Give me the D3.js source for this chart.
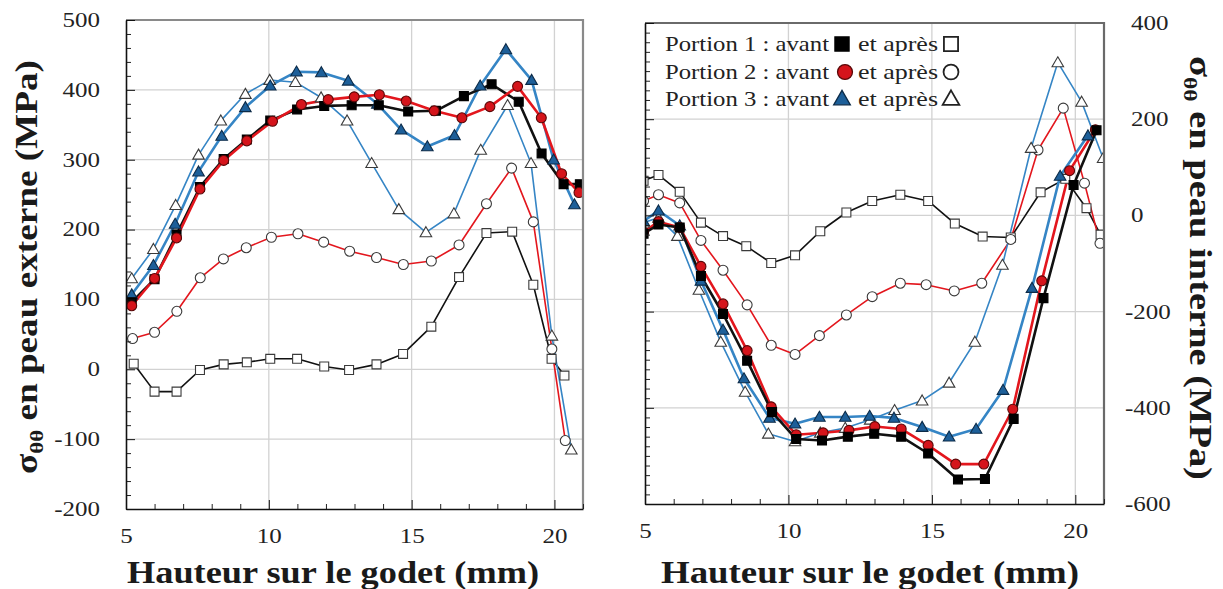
<!DOCTYPE html>
<html><head><meta charset="utf-8">
<script src="https://cdn.jsdelivr.net/npm/d3@7"></script>
<style>
body{margin:0;background:#fff;}
svg{display:block;}
</style></head><body>
<svg id="c" width="1223" height="589"></svg>
<script>
// ---------- tick values ----------
const xTicks = [5, 10, 15, 20];
const xDomain = [5, 21];
const leftYTicks = [-200, -100, 0, 100, 200, 300, 400, 500];
const rightYTicks = [-600, -400, -200, 0, 200, 400];

// ---------- left panel : externe ----------
const L_P1_avant_x = [5.2,6.0,6.77,7.59,8.42,9.23,10.05,10.99,11.94,12.9,13.85,14.88,15.85,16.83,17.8,18.75,19.55,20.32,20.89];
const L_P1_avant_y = [96,129,193,261,301,329,356,372,377,378,378,369,370,391,408,383,309,265,265];
const L_P2_avant_x = [5.2,6.0,6.77,7.59,8.42,9.23,10.13,11.14,12.08,12.99,13.87,14.81,15.79,16.76,17.74,18.71,19.54,20.25,20.86];
const L_P2_avant_y = [91,130,188,258,299,327,355,379,386,390,393,384,370,360,376,405,360,280,253];
const L_P3_avant_x = [5.2,5.96,6.72,7.54,8.35,9.18,10.05,10.97,11.84,12.78,13.8,14.63,15.55,16.5,17.4,18.3,19.2,19.97,20.7];
const L_P3_avant_y = [107,149,208,283,334,375,406,426,425,413,380,343,319,335,406,458,414,300,236];
const L_P1_apres_x = [5.27,6.0,6.77,7.59,8.42,9.23,10.05,10.99,11.94,12.81,13.77,14.7,15.69,16.66,17.62,18.52,19.26,19.9,20.35];
const L_P1_apres_y = [8,-32,-32,-1,7,10,15,15,4,-1,7,22,61,132,195,197,121,15,-9];
const L_P2_apres_x = [5.23,6.0,6.78,7.6,8.41,9.21,10.09,11.02,11.92,12.83,13.77,14.71,15.69,16.66,17.62,18.5,19.26,19.91,20.38];
const L_P2_apres_y = [44,53,83,131,158,174,189,194,182,169,160,150,155,178,237,288,211,29,-102];
const L_P3_apres_x = [5.2,5.96,6.74,7.54,8.32,9.18,10.03,10.93,11.83,12.74,13.6,14.55,15.5,16.48,17.42,18.36,19.18,19.91,20.59];
const L_P3_apres_y = [130,172,235,307,356,394,414,411,389,356,295,229,196,223,314,378,295,48,-115];

// ---------- right panel : interne ----------
const R_P1_avant_x = [4.95,5.47,6.21,6.95,7.72,8.56,9.43,10.27,11.17,12.07,12.99,13.93,14.87,15.91,16.85,17.85,18.89,19.94,20.74];
const R_P1_avant_y = [-38,-19,-25,-126,-205,-302,-409,-465,-468,-460,-454,-460,-495,-549,-548,-423,-172,63,177];
const R_P2_avant_x = [4.95,5.47,6.21,6.95,7.72,8.56,9.4,10.27,11.21,12.11,13.01,13.93,14.87,15.83,16.81,17.82,18.83,19.8,20.7];
const R_P2_avant_y = [-35,-13,-25,-106,-184,-281,-398,-456,-452,-447,-439,-444,-478,-517,-517,-403,-136,93,178];
const R_P3_avant_x = [4.95,5.47,6.21,6.95,7.72,8.45,9.34,10.23,11.08,11.98,12.83,13.68,14.66,15.6,16.54,17.48,18.49,19.47,20.44];
const R_P3_avant_y = [-12,10,-21,-136,-238,-339,-421,-433,-419,-419,-417,-421,-440,-460,-444,-363,-151,82,166];
const R_P1_apres_x = [4.95,5.47,6.21,6.95,7.72,8.53,9.4,10.23,11.11,12.02,12.92,13.9,14.87,15.8,16.77,17.75,18.79,19.65,20.39,20.88];
const R_P1_apres_y = [72,84,49,-15,-43,-64,-99,-83,-33,6,30,43,30,-17,-44,-46,48,76,15,-40];
const R_P2_apres_x = [4.95,5.47,6.21,6.95,7.72,8.56,9.4,10.23,11.08,12.02,12.92,13.9,14.8,15.78,16.74,17.75,18.7,19.58,20.32,20.86];
const R_P2_apres_y = [30,43,26,-52,-114,-186,-270,-289,-250,-207,-169,-141,-144,-157,-141,-50,136,223,67,-58];
const R_P3_apres_x = [4.95,5.47,6.13,6.88,7.64,8.49,9.3,10.23,11.11,11.98,12.85,13.7,14.66,15.6,16.5,17.46,18.46,19.39,20.22,20.97];
const R_P3_apres_y = [-15,-5,-43,-155,-263,-367,-454,-470,-452,-442,-425,-405,-385,-348,-263,-103,140,318,236,119];

// ---------- labels ----------
const xLabel = "Hauteur sur le godet (mm)";
const legendRows = [
  {portion: 1, text: "Portion 1 : avant"},
  {portion: 2, text: "Portion 2 : avant"},
  {portion: 3, text: "Portion 3 : avant"}
];
const legendAfter = "et après";

// ---------- styles ----------
const SERIF = "'Liberation Serif','Times New Roman',serif";
const style = {
  1: {line: "#111111", fill: "#000000", stroke: "#000000", sym: d3.symbolSquare, size: 80, lsize: 200},
  2: {line: "#e3161d", fill: "#d5141b", stroke: "#5a0808", sym: d3.symbolCircle, size: 78, lsize: 175},
  3: {line: "#3585c5", fill: "#1d5f99", stroke: "#0c2b48", sym: d3.symbolTriangle, size: 58, lsize: 120}
};

const svg = d3.select("#c");

function stretch(sel, f) {
  sel.each(function () {
    const w = this.getComputedTextLength();
    if (w > 0) {
      this.setAttribute("textLength", (w * f).toFixed(1));
      this.setAttribute("lengthAdjust", "spacingAndGlyphs");
    }
  });
}
function fitTo(sel, len) {
  sel.attr("textLength", len).attr("lengthAdjust", "spacingAndGlyphs");
}

function zip(xs, ys) { return xs.map((v, i) => ({x: v, y: ys[i]})); }

function panel(cfg) {
  const x = d3.scaleLinear().domain(xDomain).range([cfg.x0, cfg.x1]);
  const y = d3.scaleLinear().domain(cfg.yDomain).range([cfg.y1, cfg.y0]);
  const g = svg.append("g");

  // grid
  g.append("g").selectAll("line").data(cfg.yTicks.filter(d => d > cfg.yDomain[0] && d < cfg.yDomain[1])).join("line")
    .attr("x1", cfg.x0).attr("x2", cfg.x1).attr("y1", d => y(d)).attr("y2", d => y(d))
    .attr("stroke", "#d2d2d2").attr("stroke-width", 1.3);
  g.append("g").selectAll("line").data(xTicks.filter(d => d > xDomain[0])).join("line")
    .attr("y1", cfg.y0).attr("y2", cfg.y1).attr("x1", d => x(d)).attr("x2", d => x(d))
    .attr("stroke", "#d2d2d2").attr("stroke-width", 1.3);

  // clip
  const id = "clip" + cfg.name;
  svg.append("clipPath").attr("id", id).append("rect")
    .attr("x", cfg.x0).attr("y", cfg.y0).attr("width", cfg.x1 - cfg.x0).attr("height", cfg.y1 - cfg.y0);
  const plot = g.append("g").attr("clip-path", `url(#${id})`);

  const line = d3.line().x(d => x(d.x)).y(d => y(d.y));
  cfg.series.forEach(s => {
    const st = style[s.portion];
    const data = zip(s.xs, s.ys);
    plot.append("path").datum(data).attr("d", line)
      .attr("fill", "none").attr("stroke", st.line)
      .attr("stroke-width", s.avant ? 2.6 : 1.6).attr("stroke-linejoin", "round");
  });
  cfg.series.forEach(s => {
    const st = style[s.portion];
    const data = zip(s.xs, s.ys);
    const sym = d3.symbol().type(st.sym).size(st.size);
    plot.append("g").selectAll("path").data(data).join("path")
      .attr("transform", d => `translate(${x(d.x)},${y(d.y) + (s.portion === 3 ? 1 : 0)})`)
      .attr("d", sym)
      .attr("fill", s.avant ? st.fill : "#ffffff")
      .attr("stroke", s.avant ? st.stroke : "#3a3a3a")
      .attr("stroke-width", 1.1);
  });

  // frame top/right
  g.append("path").attr("d", `M${cfg.x0},${cfg.y0}H${cfg.x1}V${cfg.y1}`)
    .attr("fill", "none").attr("stroke", cfg.frameColor).attr("stroke-width", 2.2);

  // bottom axis
  const minorX = d3.range(5, 22, 1).filter(d => !xTicks.includes(d));
  g.append("g").attr("transform", `translate(0,${cfg.y1})`)
    .call(d3.axisBottom(x).tickValues(minorX).tickSizeInner(-5).tickSizeOuter(0).tickFormat(""))
    .call(a => a.select(".domain").remove())
    .call(a => a.selectAll("line").attr("stroke", "#222"));
  const bx = g.append("g").attr("transform", `translate(0,${cfg.y1})`)
    .call(d3.axisBottom(x).tickValues(xTicks).tickSizeInner(-9).tickSizeOuter(0).tickPadding(20).tickFormat(d => String(d)));
  bx.select(".domain").attr("stroke", "#111").attr("stroke-width", 1.6);
  bx.selectAll("line").attr("stroke", "#111");
  bx.selectAll("text").attr("font-family", SERIF).attr("font-size", 20).attr("fill", "#222").call(stretch, 1.25);

  // left axis
  const minorY = d3.range(cfg.yDomain[0], cfg.yDomain[1] + 1, 20).filter(d => !cfg.yTicks.includes(d));
  g.append("g").attr("transform", `translate(${cfg.x0},0)`)
    .call(d3.axisLeft(y).tickValues(minorY).tickSizeInner(-5).tickSizeOuter(0).tickFormat(""))
    .call(a => a.select(".domain").remove())
    .call(a => a.selectAll("line").attr("stroke", "#222"));
  const ly = g.append("g").attr("transform", `translate(${cfg.x0},0)`)
    .call(d3.axisLeft(y).tickValues(cfg.yTicks).tickSizeInner(-9).tickSizeOuter(0).tickPadding(26)
      .tickFormat(cfg.leftLabels ? (d => String(d)) : ""));
  ly.select(".domain").attr("stroke", "#111").attr("stroke-width", 1.6);
  ly.selectAll("line").attr("stroke", "#111");
  ly.selectAll("text").attr("font-family", SERIF).attr("font-size", 20).attr("fill", "#222").call(stretch, 1.25);

  if (cfg.rightLabels) {
    const ry = g.append("g").attr("transform", `translate(${cfg.x1},0)`)
      .call(d3.axisRight(y).tickValues(cfg.yTicks).tickSize(0).tickPadding(27).tickFormat(d => String(d)));
    ry.select(".domain").remove();
    ry.selectAll("text").attr("font-family", SERIF).attr("font-size", 20).attr("fill", "#222")
      .attr("x", d => d < 0 ? 21 : 27).call(stretch, 1.25);
  }

  // x label
  svg.append("text").attr("x", cfg.xLabelCx).attr("y", 583)
    .attr("text-anchor", "middle").attr("font-family", SERIF).attr("font-weight", "bold")
    .attr("font-size", 31).attr("fill", "#1a1a1a").text(xLabel).call(fitTo, cfg.xLabelLen);

  return {x, y, g};
}

const left = panel({
  name: "L", x0: 126, x1: 583, y0: 20, y1: 509, yDomain: [-200, 500], yTicks: leftYTicks,
  frameColor: "#8a8a8a", leftLabels: true, rightLabels: false,
  xLabelCx: 333, xLabelLen: 412,
  series: [
    {portion: 1, avant: false, xs: L_P1_apres_x, ys: L_P1_apres_y},
    {portion: 2, avant: false, xs: L_P2_apres_x, ys: L_P2_apres_y},
    {portion: 3, avant: false, xs: L_P3_apres_x, ys: L_P3_apres_y},
    {portion: 3, avant: true, xs: L_P3_avant_x, ys: L_P3_avant_y},
    {portion: 1, avant: true, xs: L_P1_avant_x, ys: L_P1_avant_y},
    {portion: 2, avant: true, xs: L_P2_avant_x, ys: L_P2_avant_y}
  ]
});

const right = panel({
  name: "R", x0: 645, x1: 1104, y0: 23, y1: 504, yDomain: [-600, 400], yTicks: rightYTicks,
  frameColor: "#6a6a6a", leftLabels: false, rightLabels: true,
  xLabelCx: 870, xLabelLen: 418,
  series: [
    {portion: 1, avant: false, xs: R_P1_apres_x, ys: R_P1_apres_y},
    {portion: 2, avant: false, xs: R_P2_apres_x, ys: R_P2_apres_y},
    {portion: 3, avant: false, xs: R_P3_apres_x, ys: R_P3_apres_y},
    {portion: 3, avant: true, xs: R_P3_avant_x, ys: R_P3_avant_y},
    {portion: 2, avant: true, xs: R_P2_avant_x, ys: R_P2_avant_y},
    {portion: 1, avant: true, xs: R_P1_avant_x, ys: R_P1_avant_y}
  ]
});

// y labels
function yLabel(tx, ty, rot, word, len) {
  const g = svg.append("g");
  const t = g.append("text").attr("text-anchor", "middle").attr("font-family", SERIF)
    .attr("font-weight", "bold").attr("font-size", 31).attr("fill", "#1a1a1a");
  t.append("tspan").text("σ");
  t.append("tspan").attr("font-size", 19).attr("dy", 6).text("θθ");
  t.append("tspan").attr("dy", -6).text(" en peau " + word + " (MPa)");
  const w = t.node().getBBox().width;
  g.attr("transform", `translate(${tx},${ty}) rotate(${rot}) scale(${len / w},1)`);
}
yLabel(37, 267, -90, "externe", 414);
yLabel(1190, 268, 90, "interne", 424);

// legend
const legY = [51, 79, 106];
const lg = svg.append("g");
legendRows.forEach((r, i) => {
  const st = style[r.portion];
  lg.append("text").attr("x", 665).attr("y", legY[i]).attr("font-family", SERIF).attr("font-size", 21)
    .attr("fill", "#222").text(r.text).call(fitTo, 164);
  lg.append("path").attr("transform", `translate(${r.portion === 2 ? 845 : 842},${legY[i] - 7 + (r.portion === 3 ? 1 : 0)})`)
    .attr("d", d3.symbol().type(st.sym).size(st.lsize)())
    .attr("fill", st.fill).attr("stroke", st.stroke).attr("stroke-width", 1.3);
  lg.append("text").attr("x", 858).attr("y", legY[i]).attr("font-family", SERIF).attr("font-size", 21)
    .attr("fill", "#222").text(legendAfter).call(fitTo, 80);
  lg.append("path").attr("transform", `translate(951,${legY[i] - 7 + (r.portion === 3 ? 1 : 0)})`)
    .attr("d", d3.symbol().type(st.sym).size(st.lsize)())
    .attr("fill", "#fff").attr("stroke", "#222").attr("stroke-width", 1.8);
});
</script>
</body></html>
